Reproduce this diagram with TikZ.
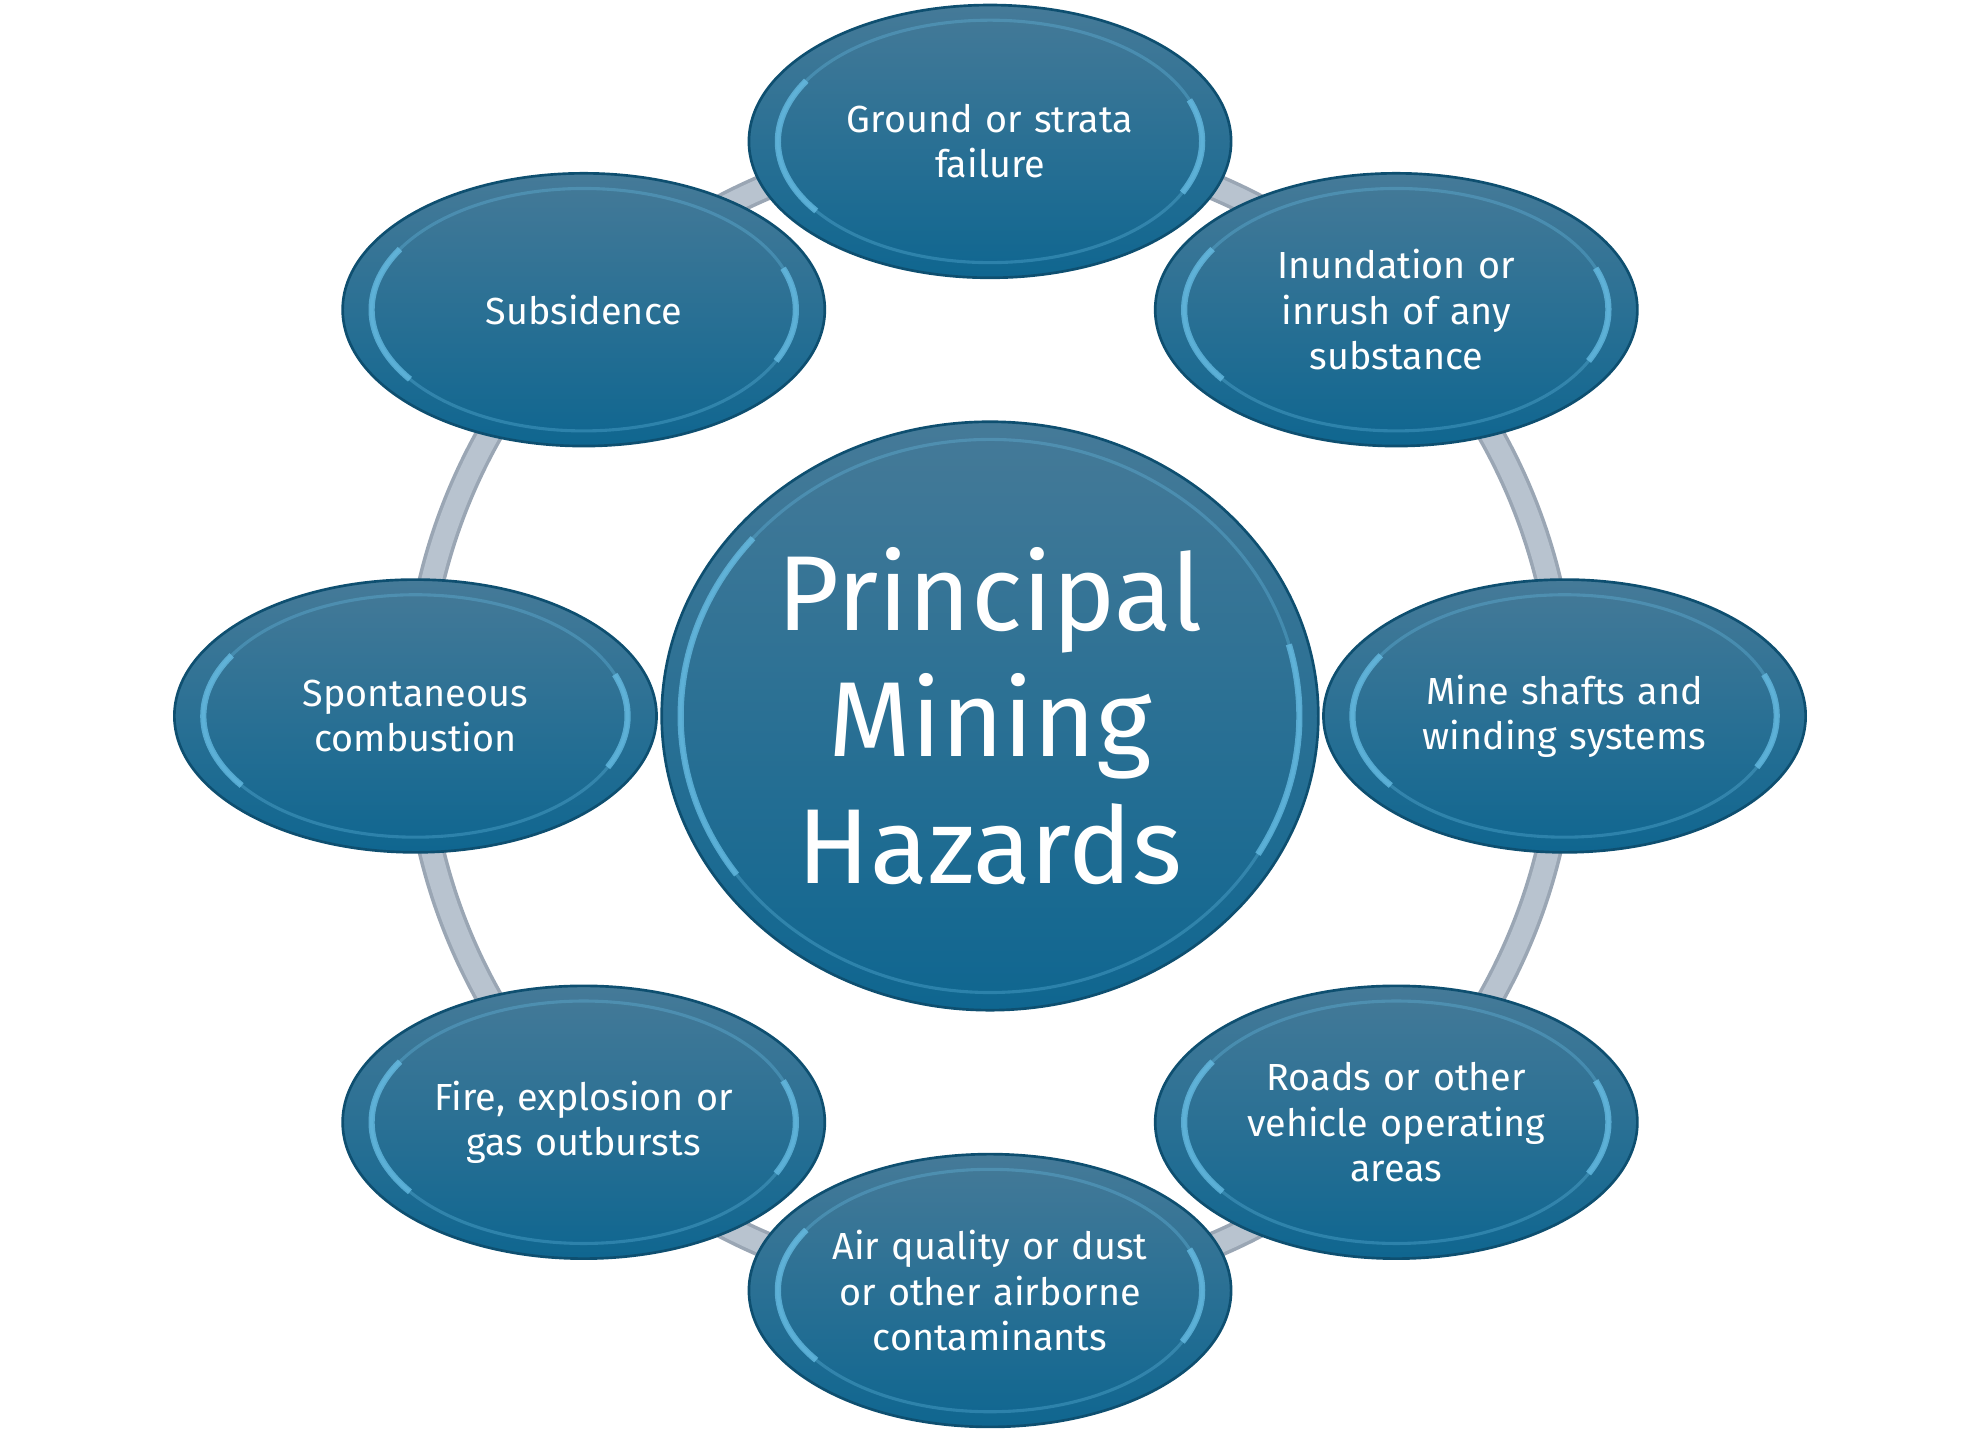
\documentclass[tikz,border=0pt]{standalone}
\usepackage{fontspec}
\setmainfont{Fira Sans}
\usetikzlibrary{shapes.geometric,calc}
\definecolor{hazTop}{HTML}{457A98}
\definecolor{hazBot}{HTML}{0F6690}
\definecolor{hazRim}{HTML}{0E4F70}
\definecolor{hazGlow}{HTML}{6CC3EA}
\definecolor{ringFill}{HTML}{B8C3CF}
\definecolor{ringEdge}{HTML}{9AA6B4}

\begin{document}
\begin{tikzpicture}
  \tikzstyle{hazard} = [ellipse, draw=hazRim, line width=.6pt, minimum width=3.68cm, minimum height=2.16cm,
                        inner sep=0pt, text width=2.7cm, align=center, text=white, shade,
                        top color=hazTop, bottom color=hazBot, font=\fontsize{8.5}{10.2}\selectfont]
  \tikzstyle{hub} = [hazard, minimum width=5.2cm, minimum height=4.66cm, text width=3.6cm,
                     font=\fontsize{24}{28.5}\selectfont]
  \tikzstyle{bevel} = [draw=hazGlow, line width=.7pt, opacity=.3]
  \tikzstyle{glow} = [draw=hazGlow, line width=1.4pt, opacity=.7]
  \tikzstyle{ring} = [draw=ringEdge, line width=6.2pt]
\useasboundingbox (0,0) rectangle (15.68,11.35);
\coordinate (mid) at (7.84,5.68);
% ring behind the hazards
\draw[ring] (mid) circle (4.55);
\draw[ringFill, line width=4.6pt] (mid) circle (4.55);
\node[hub] (hub) at (mid) {\raisebox{.1cm}{\parbox{3.6cm}{\centering Principal\\Mining\\Hazards}}};
\node[hazard] (ground) at ($(mid)+(90:4.55)$) {Ground or strata\\failure};
\node[hazard] (inrush) at ($(mid)+(45:4.55)$) {Inundation or\\inrush of any\\substance};
\node[hazard] (shafts) at ($(mid)+(0:4.55)$) {Mine shafts and\\winding systems};
\node[hazard] (roads) at ($(mid)+(-45:4.55)$) {Roads or other\\vehicle operating\\areas};
\node[hazard] (air) at ($(mid)+(-90:4.55)$) {Air quality or dust\\or other airborne\\contaminants};
\node[hazard] (fire) at ($(mid)+(-135:4.55)$) {Fire, explosion or\\gas outbursts};
\node[hazard] (combust) at ($(mid)+(180:4.55)$) {Spontaneous\\combustion};
\node[hazard] (subs) at ($(mid)+(135:4.55)$) {Subsidence};
% inner bevel, brighter at the sides
\foreach \n in {ground,inrush,shafts,roads,air,fire,combust,subs}{
  \draw[bevel] (\n.center) ellipse [x radius=1.68, y radius=.96];
  \draw[glow] ($(\n.center)+(150:1.68 and .96)$) arc [start angle=150, end angle=215, x radius=1.68, y radius=.96];
  \draw[glow] ($(\n.center)+(-25:1.68 and .96)$) arc [start angle=-25, end angle=20, x radius=1.68, y radius=.96];
}
\draw[bevel] (hub.center) ellipse [x radius=2.45, y radius=2.19];
\draw[glow] ($(hub.center)+(140:2.45 and 2.19)$) arc [start angle=140, end angle=215, x radius=2.45, y radius=2.19];
\draw[glow] ($(hub.center)+(-30:2.45 and 2.19)$) arc [start angle=-30, end angle=15, x radius=2.45, y radius=2.19];
\end{tikzpicture}
\end{document}
